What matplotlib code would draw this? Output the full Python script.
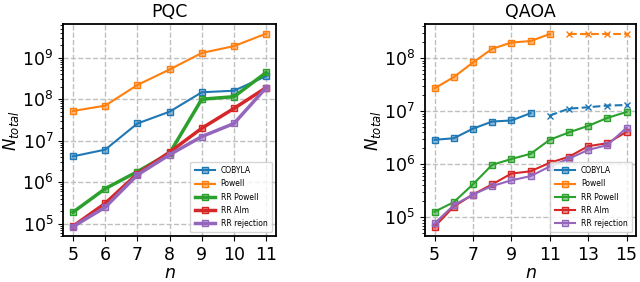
import numpy as np
import matplotlib
matplotlib.use('Agg')
import matplotlib.pyplot as plt

# ---------- data ----------
n_pqc = [5, 6, 7, 8, 9, 10, 11]
pqc_cobyla = [4.2e6, 6.1e6, 2.6e7, 5.0e7, 1.47e8, 1.6e8, 3.6e8]
pqc_powell = [5.2e7, 7.0e7, 2.2e8, 5.2e8, 1.3e9, 1.9e9, 3.8e9]
pqc_rr_powell = [1.9e5, 7.0e5, 1.8e6, 5.0e6, 1.0e8, 1.15e8, 4.4e8]
pqc_rr_alm = [8.7e4, 3.1e5, 1.6e6, 5.3e6, 2.0e7, 6.0e7, 1.9e8]
pqc_rr_rej = [8.5e4, 2.5e5, 1.5e6, 4.6e6, 1.26e7, 2.6e7, 1.9e8]

n_qaoa = [5, 6, 7, 8, 9, 10, 11, 12, 13, 14, 15]
qaoa_cobyla = [2.9e6, 3.1e6, 4.7e6, 6.4e6, 6.7e6, 9.2e6]
n_qaoa_cobyla_est = [11, 12, 13, 14, 15]
qaoa_cobyla_est = [8.3e6, 1.12e7, 1.19e7, 1.28e7, 1.31e7]
qaoa_powell = [2.7e7, 4.4e7, 8.3e7, 1.5e8, 1.97e8, 2.1e8, 2.85e8]
n_qaoa_powell_est = [12, 13, 14, 15]
qaoa_powell_est = [2.9e8, 2.9e8, 2.9e8, 2.9e8]
qaoa_rr_powell = [1.28e5, 1.94e5, 4.2e5, 9.8e5, 1.26e6, 1.58e6, 2.9e6,
                  4.0e6, 5.3e6, 7.5e6, 9.7e6]
qaoa_rr_alm = [6.7e4, 1.6e5, 2.7e5, 4.2e5, 6.7e5, 7.4e5, 1.07e6,
               1.39e6, 2.2e6, 2.5e6, 4.1e6]
qaoa_rr_rej = [7.7e4, 1.7e5, 2.7e5, 3.9e5, 5.0e5, 6.0e5, 9.1e5,
               1.28e6, 1.87e6, 2.3e6, 4.9e6]

labels = ['COBYLA', 'Powell', 'RR Powell', 'RR Alm', 'RR rejection']
colors = ['#1f77b4', '#ff7f0e', '#2ca02c', '#d62728', '#9467bd']


def mfc(c):
    rgba = list(matplotlib.colors.to_rgba(c))
    rgba[3] = 0.5
    return tuple(rgba)


fig = plt.figure(figsize=(6.4, 2.82), dpi=100)
ax1 = fig.add_axes([0.099, 0.162, 0.332, 0.753])
ax2 = fig.add_axes([0.664, 0.162, 0.330, 0.753])

# ---------- PQC ----------
pqc = [pqc_cobyla, pqc_powell, pqc_rr_powell, pqc_rr_alm, pqc_rr_rej]
widths = [1.5, 1.5, 2.5, 2.5, 2.5]
for y, lab, c, lw in zip(pqc, labels, colors, widths):
    ax1.plot(n_pqc, y, marker='s', ms=5, lw=lw, color=c,
             mfc=mfc(c), mec=c, label=lab)
ax1.set_xticks(n_pqc)

# ---------- QAOA ----------
qaoa = [qaoa_cobyla, qaoa_powell, qaoa_rr_powell, qaoa_rr_alm, qaoa_rr_rej]
for y, lab, c in zip(qaoa, labels, colors):
    ax2.plot(n_qaoa[:len(y)], y, marker='s', ms=5, lw=1.5, color=c,
             mfc=mfc(c), mec=c, label=lab)
ax2.plot(n_qaoa_cobyla_est, qaoa_cobyla_est, marker='x', ms=5, lw=1.5,
         ls='--', color=colors[0])
ax2.plot(n_qaoa_powell_est, qaoa_powell_est, marker='x', ms=5, lw=1.5,
         ls='--', color=colors[1])
ax2.set_xticks([5, 7, 9, 11, 13, 15])

for ax, title in [(ax1, 'PQC'), (ax2, 'QAOA')]:
    ax.set_yscale('log')
    ax.set_title(title, fontsize=12.5, pad=5)
    ax.set_xlabel('$n$', fontsize=12.5, labelpad=0)
    ax.set_ylabel('$N_{total}$', fontsize=12, labelpad=1)
    ax.grid(True, ls='--', lw=1.0, color='#c0c0c0')
    ax.tick_params(labelsize=12.5)
    for s in ax.spines.values():
        s.set_linewidth(1.3)
    ax.legend(loc='lower right', fontsize=5.5, handlelength=2.6,
              borderpad=0.6, labelspacing=0.55)

fig.savefig('out.png', dpi=100)
